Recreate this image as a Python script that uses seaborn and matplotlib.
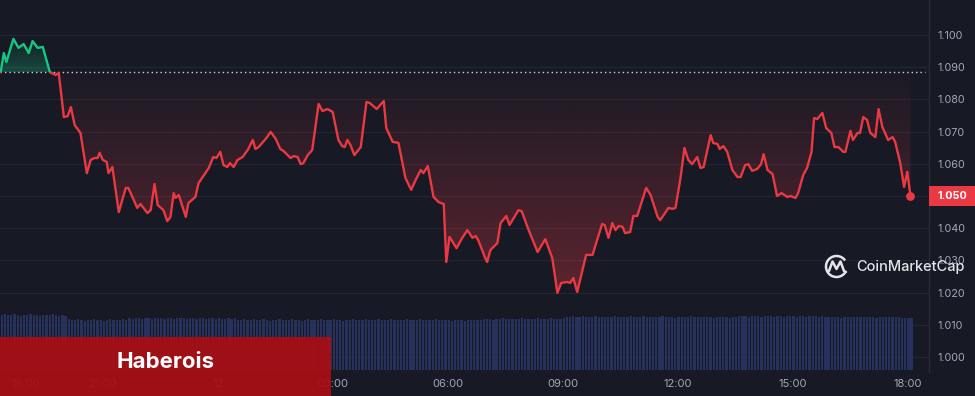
import numpy as np
import pandas as pd
import matplotlib
matplotlib.use("Agg")
import matplotlib.pyplot as plt
import matplotlib.dates as mdates
import matplotlib.colors as mcolors
from matplotlib.patches import Rectangle, Arc
from matplotlib.path import Path
from matplotlib.ticker import FixedLocator, FuncFormatter
from matplotlib.transforms import blended_transform_factory
import seaborn as sns

# price readings: minutes after 18:20 on the 11th, and price
minutes = [
    0, 5, 9, 20, 28, 36, 44, 50, 58, 66,
    77, 86, 91, 99, 105, 110, 116, 125, 135, 141,
    147, 152, 155, 160, 166, 169, 175, 185, 196, 200,
    214, 219, 230, 235, 241, 246, 255, 261, 266, 271,
    274, 279, 290, 294, 305, 310, 326, 333, 338, 344,
    349, 355, 359, 365, 371, 379, 387, 395, 399, 404,
    415, 423, 431, 438, 443, 454, 459, 465, 470, 474,
    481, 488, 493, 498, 504, 512, 520, 529, 535, 539,
    543, 548, 554, 564, 573, 578, 589, 600, 604, 614,
    623, 634, 643, 650, 658, 662, 669, 678, 686, 694,
    698, 703, 714, 723, 731, 739, 744, 748, 759, 762,
    767, 778, 783, 792, 797, 811, 816, 827, 841, 853,
    864, 872, 878, 888, 892, 897, 903, 917, 927, 942,
    946, 952, 958, 963, 968, 974, 978, 986, 991, 997,
    1011, 1018, 1029, 1033, 1046, 1052, 1057, 1065, 1071, 1077,
    1083, 1091, 1096, 1101, 1112, 1116, 1123, 1126, 1132, 1138,
    1146, 1154, 1159, 1166, 1171, 1177, 1185, 1191, 1195, 1201,
    1209, 1216, 1223, 1232, 1237, 1245, 1249, 1257, 1263, 1270,
    1274, 1279, 1287, 1293, 1301, 1306, 1312, 1320, 1323, 1331,
    1335, 1342, 1346, 1351, 1357, 1362, 1370, 1375, 1381, 1390,
    1397, 1401, 1409, 1415, 1420, 1425,
]
prices = [
    1.0885, 1.0944, 1.0916, 1.0988, 1.0960, 1.0972, 1.0944, 1.0981, 1.0960, 1.0963,
    1.0885, 1.0876, 1.0882, 1.0745, 1.0748, 1.0776, 1.0720, 1.0696, 1.0571, 1.0612,
    1.0618, 1.0618, 1.0634, 1.0612, 1.0606, 1.0571, 1.0590, 1.0450, 1.0525, 1.0525,
    1.0463, 1.0475, 1.0447, 1.0456, 1.0537, 1.0472, 1.0456, 1.0422, 1.0435, 1.0509,
    1.0494, 1.0503, 1.0435, 1.0478, 1.0497, 1.0540, 1.0587, 1.0621, 1.0618, 1.0637,
    1.0596, 1.0590, 1.0602, 1.0590, 1.0612, 1.0621, 1.0643, 1.0674, 1.0646, 1.0652,
    1.0677, 1.0699, 1.0677, 1.0646, 1.0640, 1.0618, 1.0624, 1.0621, 1.0599, 1.0602,
    1.0627, 1.0643, 1.0714, 1.0786, 1.0764, 1.0770, 1.0761, 1.0674, 1.0655, 1.0652,
    1.0674, 1.0658, 1.0627, 1.0652, 1.0792, 1.0789, 1.0770, 1.0795, 1.0711, 1.0668,
    1.0665, 1.0556, 1.0519, 1.0550, 1.0581, 1.0571, 1.0593, 1.0497, 1.0481, 1.0475,
    1.0295, 1.0373, 1.0338, 1.0370, 1.0394, 1.0370, 1.0376, 1.0363, 1.0307, 1.0295,
    1.0332, 1.0354, 1.0416, 1.0438, 1.0410, 1.0456, 1.0453, 1.0394, 1.0326, 1.0366,
    1.0307, 1.0199, 1.0230, 1.0233, 1.0230, 1.0245, 1.0202, 1.0317, 1.0317, 1.0413,
    1.0410, 1.0370, 1.0416, 1.0394, 1.0407, 1.0404, 1.0385, 1.0388, 1.0438, 1.0438,
    1.0525, 1.0503, 1.0435, 1.0425, 1.0463, 1.0460, 1.0463, 1.0559, 1.0649, 1.0612,
    1.0599, 1.0621, 1.0587, 1.0590, 1.0689, 1.0665, 1.0661, 1.0646, 1.0655, 1.0637,
    1.0581, 1.0559, 1.0559, 1.0596, 1.0599, 1.0578, 1.0584, 1.0599, 1.0630, 1.0581,
    1.0568, 1.0500, 1.0509, 1.0497, 1.0500, 1.0494, 1.0509, 1.0565, 1.0587, 1.0637,
    1.0742, 1.0739, 1.0758, 1.0711, 1.0696, 1.0652, 1.0652, 1.0637, 1.0637, 1.0702,
    1.0674, 1.0696, 1.0696, 1.0745, 1.0736, 1.0696, 1.0683, 1.0770, 1.0714, 1.0674,
    1.0683, 1.0668, 1.0602, 1.0528, 1.0575, 1.0500,
]

# 5 minute volume bars (relative units)
volumes = [
    5.5, 5.6, 5.5, 5.5, 5.6, 5.5, 5.4, 5.5, 5.5, 5.6, 5.5, 5.5, 5.4, 5.5, 5.5, 5.5, 5.6, 5.5, 5.4, 5.5,
    5.4, 5.1, 5.0, 5.0, 5.1, 5.0, 4.9, 5.0, 5.0, 5.1, 5.0, 5.0, 4.9, 5.0, 5.1, 5.0, 5.0, 5.0, 5.1, 5.0,
    5.2, 5.1, 5.2, 5.2, 5.1, 5.2, 5.2, 5.1, 5.2, 5.2, 5.2, 5.1, 5.2, 5.2, 5.1, 5.2, 5.2, 5.2, 5.1, 5.2,
    5.2, 5.1, 5.2, 5.2, 5.1, 5.2, 5.2, 5.1, 5.2, 5.1, 5.1, 5.2, 5.1, 5.2, 5.0, 5.0, 5.1, 5.0, 5.0, 5.1,
    5.0, 5.0, 5.1, 5.0, 4.9, 5.0, 5.0, 5.1, 5.0, 5.0, 5.0, 5.1, 5.0, 5.0, 4.9, 5.0, 5.1, 5.0, 5.0, 5.0,
    5.1, 5.0, 5.0, 5.0, 5.1, 5.0, 5.0, 4.9, 5.0, 5.0, 5.1, 5.0, 5.0, 5.0, 5.1, 5.0, 5.0, 5.0, 5.1, 5.0,
    5.0, 5.0, 5.1, 5.0, 5.0, 5.0, 5.0, 5.1, 5.0, 5.0, 5.0, 5.1, 5.0, 5.0, 5.0, 5.0, 5.1, 5.0, 5.0, 5.0,
    5.0, 4.9, 5.0, 5.0, 5.0, 4.9, 5.0, 5.0, 5.0, 5.0, 5.0, 5.1, 5.1, 5.1, 5.0, 5.1, 5.1, 5.2, 5.1, 5.1,
    5.1, 5.1, 5.1, 5.2, 5.1, 5.1, 5.1, 5.1, 5.2, 5.1, 5.1, 5.1, 5.2, 5.1, 5.1, 5.1, 5.2, 5.3, 5.3, 5.4,
    5.3, 5.3, 5.4, 5.3, 5.3, 5.3, 5.4, 5.3, 5.3, 5.3, 5.3, 5.3, 5.4, 5.3, 5.3, 5.3, 5.3, 5.4, 5.3, 5.3,
    5.3, 5.4, 5.3, 5.3, 5.3, 5.3, 5.3, 5.4, 5.3, 5.3, 5.3, 5.2, 5.3, 5.3, 5.3, 5.3, 5.4, 5.3, 5.3, 5.3,
    5.3, 5.3, 5.3, 5.2, 5.3, 5.3, 5.3, 5.3, 5.2, 5.3, 5.3, 5.4, 5.4, 5.4, 5.3, 5.4, 5.4, 5.4, 5.3, 5.4,
    5.4, 5.4, 5.3, 5.4, 5.4, 5.3, 5.4, 5.4, 5.4, 5.3, 5.4, 5.4, 5.3, 5.4, 5.4, 5.4, 5.3, 5.4, 5.3, 5.3,
    5.3, 5.3, 5.3, 5.2, 5.3, 5.3, 5.3, 5.3, 5.3, 5.3, 5.3, 5.3, 5.3, 5.3, 5.2, 5.3, 5.3, 5.3, 5.3, 5.3,
    5.3, 5.3, 5.2, 5.2, 5.2, 5.2,
]

price_ticks = [1.000, 1.010, 1.020, 1.030, 1.040, 1.050, 1.060, 1.070, 1.080, 1.090, 1.100]
tick_times = ["2024-01-11 19:00", "2024-01-11 21:00", "2024-01-12 00:00", "2024-01-12 03:00",
              "2024-01-12 06:00", "2024-01-12 09:00", "2024-01-12 12:00", "2024-01-12 15:00",
              "2024-01-12 18:00"]
tick_labels = ["19:00", "21:00", "12", "03:00", "06:00", "09:00", "12:00", "15:00", "18:00"]

BG = "#171a25"
GRID = "#232632"
RED = "#ea3943"
GREEN = "#16c784"
TXT = "#a2a8b5"

sns.set_theme(style="dark", rc={"axes.facecolor": BG, "figure.facecolor": BG})
plt.rcParams["font.family"] = ["Inter", "DejaVu Sans"]

t0 = pd.Timestamp("2024-01-11 18:20")
df = pd.DataFrame({"time": t0 + pd.to_timedelta(minutes, unit="m"), "price": prices})
base = prices[0]
last = prices[-1]

fig = plt.figure(figsize=(9.75, 3.96), dpi=100)
ax = fig.add_axes([0, 24 / 396, 929 / 975, 372 / 396])
ax.set_facecolor(BG)

xnum = mdates.date2num(df["time"])
yarr = np.array(prices)
x_lo = mdates.date2num(t0 - pd.Timedelta(minutes=1))
x_hi = mdates.date2num(t0 + pd.Timedelta(minutes=1454))


def gradient_fill(mask, color, y_lo, y_hi, a_bottom, a_top):
    poly = ax.fill_between(xnum, yarr, base, where=mask, interpolate=True,
                           facecolor="none", edgecolor="none")
    path = Path.make_compound_path(*poly.get_paths())
    grad = np.zeros((256, 1, 4))
    grad[:, :, :3] = mcolors.to_rgb(color)
    grad[:, 0, 3] = np.linspace(a_bottom, a_top, 256)
    im = ax.imshow(grad, extent=[xnum[0], xnum[-1], y_lo, y_hi], aspect="auto",
                   origin="lower", zorder=1)
    im.set_clip_path(path, transform=ax.transData)


gradient_fill(yarr <= base, RED, 1.018, base, 0.34, 0.02)
gradient_fill(yarr >= base, GREEN, base, 1.100, 0.28, 0.0)

# red below the baseline, green above it
below = Rectangle((x_lo, 0.9), x_hi - x_lo, base - 0.9, transform=ax.transData)
above = Rectangle((x_lo, base), x_hi - x_lo, 0.2, transform=ax.transData)
sns.lineplot(data=df, x="time", y="price", ax=ax, color=RED, linewidth=1.7, zorder=3)
ax.lines[-1].set_clip_path(below)
sns.lineplot(data=df, x="time", y="price", ax=ax, color=GREEN, linewidth=1.7, zorder=3)
ax.lines[-1].set_clip_path(above)
ax.scatter(xnum[-1], last, s=40, color=RED, zorder=4, linewidths=0)

ax.axhline(base, xmax=925 / 929, color="#cfd2d9", linestyle=(0, (1, 2.2)), linewidth=1, zorder=2)

# volume on its own scale along the bottom
ax2 = ax.twinx()
vol_times = mdates.date2num(t0 + pd.to_timedelta(np.arange(len(volumes)) * 5, unit="m"))
ax2.bar(vol_times, volumes, width=3.5 / 1440, color="#26315c", linewidth=0, align="edge")
ax2.set_ylim(-0.2, 37.0)
ax2.set_yticks([])
ax2.grid(False)
for side in ax2.spines:
    ax2.spines[side].set_visible(False)

ax.set_xlim(x_lo, x_hi)
ax.set_ylim(0.99534, 1.11087)
ax.yaxis.tick_right()
ax.yaxis.set_label_position("right")
ax.yaxis.set_major_locator(FixedLocator(price_ticks))
# the current price tag sits where its own tick label would be
ax.yaxis.set_major_formatter(FuncFormatter(lambda v, _: "" if abs(v - last) < 1e-6 else f"{v:.3f}"))
ax.set_xticks(mdates.date2num(pd.to_datetime(tick_times)))
ax.set_xticklabels(tick_labels)
ax.tick_params(axis="y", which="both", left=False, labelleft=False, right=False,
               labelright=True, length=0, pad=6, labelsize=7.8, labelcolor=TXT)
ax.tick_params(axis="x", length=0, pad=5, labelsize=8, labelcolor=TXT)
ax.set_xlabel("")
ax.set_ylabel("")
ax.yaxis.grid(True, color=GRID, linewidth=0.9)
ax.xaxis.grid(False)
ax.set_axisbelow(True)
for side in ["top", "left", "bottom"]:
    ax.spines[side].set_visible(False)
ax.spines["right"].set_color("#272b37")
ax.spines["right"].set_linewidth(1)

# last price tag on the axis
blend = blended_transform_factory(ax.transAxes, ax.transData)
ax.add_patch(Rectangle((1.0, last - 0.0031), 0.06, 0.0062, transform=blend,
                       facecolor=RED, edgecolor="none", clip_on=False, zorder=6))
ax.text(1.0248, last, f"{last:.3f}", transform=blend, ha="center", va="center",
        color="white", fontsize=7.8, fontweight="bold", zorder=7, clip_on=False)

# overlay: watermark and banner
ov = fig.add_axes([0, 0, 1, 1], zorder=10)
ov.set_xlim(0, 975)
ov.set_ylim(396, 0)
ov.axis("off")
ov.patch.set_alpha(0)

ov.add_patch(Arc((836.5, 266.5), 21, 21, theta1=35, theta2=325, color="#e4e5e9", lw=1.8))
ov.plot([829, 832.5, 836.5, 840.5, 844, 846], [271, 261.5, 269, 261.5, 271, 272],
        color="#e4e5e9", lw=1.8, solid_joinstyle="round")
ov.text(856, 267, "CoinMarketCap", color="#e4e5e9", fontsize=10.5, fontweight="medium",
        ha="left", va="center")

ov.add_patch(Rectangle((0, 337), 331, 60, facecolor="#a60f15", edgecolor="none", alpha=0.95))
ov.text(166, 362, "Haberois", color="white", fontsize=16, fontweight="bold",
        ha="center", va="center")

fig.savefig("out.png", dpi=100, facecolor=BG)
